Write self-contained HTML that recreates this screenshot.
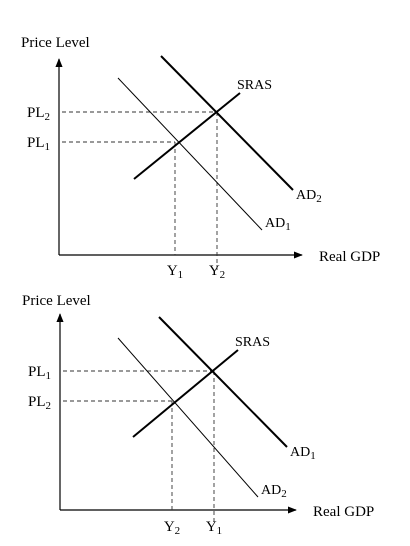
<!DOCTYPE html>
<html><head><meta charset="utf-8"><style>
html,body{margin:0;padding:0;background:#fff;width:410px;height:546px;overflow:hidden}
svg{display:block}
text{font-family:"Liberation Serif",serif;fill:#000}
</style></head><body>
<svg id="s" width="410" height="546" viewBox="0 0 410 546">
<defs><marker id="ah" viewBox="0 0 10 10" refX="9" refY="5" markerWidth="9" markerHeight="9" orient="auto" markerUnits="userSpaceOnUse"><path d="M0,1 L10,5 L0,9 z" fill="#000"/></marker></defs>
</svg>
<script>
// Curves in data units (x right from origin, y up from origin)
const panelNames = ["increase-panel","decrease-panel"];
const curveLabels = [["AD₁","AD₂","SRAS"],["AD₂","AD₁","SRAS"]];
const curveX1 = [[59,102,75],[58,99,73]];
const curveY1 = [[177,199,76],[172,193,73]];
const curveX2 = [[203,234,181],[198,227,178]];
const curveY2 = [[25,65,162],[13,63,160]];
const eqX = [[116,158],[112,154]];
const eqY = [[113,143],[109,139]];
const levelLabels = [["PL₁","PL₂"],["PL₂","PL₁"]];
const gdpLabels = [["Y₁","Y₂"],["Y₂","Y₁"]];
const origins = [[59,255],[60,510]];
const svg = document.getElementById('s');
const NS = 'http://www.w3.org/2000/svg';
function mk(tag, attrs, parent){const e=document.createElementNS(NS,tag);for(const k in attrs)e.setAttribute(k,attrs[k]);(parent||svg).appendChild(e);return e;}
function txt(str,x,y,size,parent,anchor){const t=mk('text',{x:x,y:y,'font-size':size,'text-anchor':anchor||'start'},parent);t.innerHTML=str;return t;}
function sub(s){return s.replace(/([A-Z]+)([₁₂])/,(m,a,b)=>a+'<tspan font-size="11" dy="3">'+(b==='₁'?'1':'2')+'</tspan>');}
for(let p=0;p<2;p++){
  const [ox,oy]=origins[p];
  const sx=v=>ox+v, sy=v=>oy-v;
  const g=mk('g',{});
  
  
  const ya=mk('line',{x1:sx(0),y1:sy(0),x2:sx(0),y2:sy(196),stroke:'#000','stroke-width':1.2,'marker-end':'url(#ah)'},g);
  
  const xa=mk('line',{x1:sx(0),y1:sy(0),x2:sx(p?236:243),y2:sy(0),stroke:'#000','stroke-width':1.2,'marker-end':'url(#ah)'},g);
  
  const yt=txt('Price Level',p?22:21,p?305:47,15,g);
  
  const xt=txt('Real GDP',p?313:319,oy+6,15,g);
  
  for(let i=0;i<2;i++){
    const hx=mk('line',{x1:sx(3),y1:sy(eqY[p][i]),x2:sx(eqX[p][i]),y2:sy(eqY[p][i]),stroke:'#333','stroke-width':0.9,'stroke-dasharray':'4,3'},g);
    
    const vx=mk('line',{x1:sx(eqX[p][i]),y1:sy(eqY[p][i]),x2:sx(eqX[p][i]),y2:sy(i?-15:0),stroke:'#333','stroke-width':0.9,'stroke-dasharray':'4,3'},g);
    
    const pl=txt(sub(levelLabels[p][i]),ox-32,sy(eqY[p][i])+5,15,g);
    
    const gl=txt(sub(gdpLabels[p][i]),sx(eqX[p][i]),oy+(p?21:20),15,g,'middle');
    
  }
  for(let c=0;c<3;c++){
    const thick=(curveLabels[p][c]==='SRAS')||c===1;
    const l=mk('line',{x1:sx(curveX1[p][c]),y1:sy(curveY1[p][c]),x2:sx(curveX2[p][c]),y2:sy(curveY2[p][c]),stroke:'#000','stroke-width':thick?2:1},g);
    
    
    let lx,ly;
    if(curveLabels[p][c]==='SRAS'){lx=sx(curveX2[p][c])-3;ly=sy(curveY2[p][c])-4;}
    else{lx=sx(curveX2[p][c])+3;ly=sy(curveY2[p][c])+(c===0?-3:9);}
    const lt=txt(sub(curveLabels[p][c]),lx,ly,14,g);
    
  }
}
</script>
</body></html>
